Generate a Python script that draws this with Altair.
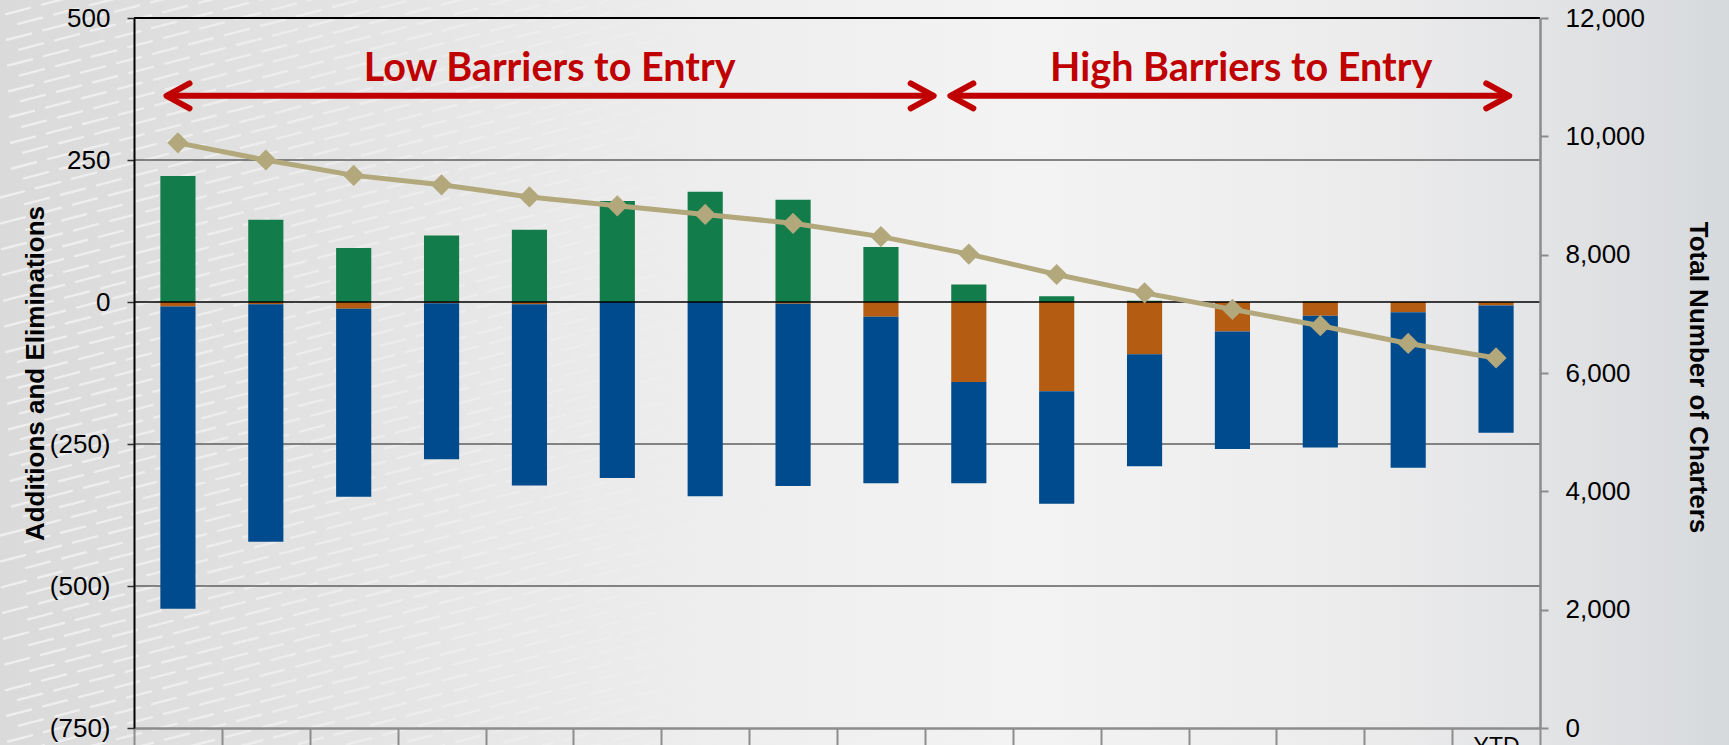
import altair as alt
import pandas as pd

# Charter activity by year (left axis: additions above zero, eliminations below)
years = ["2000", "2001", "2002", "2003", "2004", "2005", "2006", "2007",
         "2008", "2009", "2010", "2011", "2012", "2013", "2014", "YTD"]
new_charters = [222, 145, 95, 117, 127, 178, 194, 180, 97, 31, 10, 2, 0, 1, 0, 0]
failures = [-8, -4, -12, -2, -4, 0, 0, -3, -26, -141, -157, -92, -52, -24, -18, -6]
mergers = [-532, -418, -331, -275, -319, -310, -342, -321, -293, -178, -198,
           -197, -207, -232, -274, -224]
# Right axis: total number of charters at year end
total_charters = [9890, 9600, 9340, 9180, 8975, 8825, 8680, 8530, 8305, 8010,
                  7665, 7355, 7075, 6800, 6500, 6255]

series_names = ["New Charters", "Failures", "Mergers"]
series_colors = ["#137c4b", "#b35c12", "#004b8d"]

# Annotation spans (in category units) and their labels
span_labels = ["Low Barriers to Entry", "High Barriers to Entry"]
span_start = [0.37, 9.29]
span_end = [9.10, 15.65]
span_mid = [4.73, 12.6]
arrow_level = 363
label_level = 389

left_ticks = [-750, -500, -250, 0, 250, 500]
grid_values = [-500, -250, 250]
right_ticks = [0, 2000, 4000, 6000, 8000, 10000, 12000]

W, H = 1406, 710
PAD = {"left": 134, "top": 18, "right": 189, "bottom": 17}
RED = "#c00000"
TAN = "#b2a87c"
FONT = "Liberation Sans"

rows = []
for i, yr in enumerate(years):
    for k, (name, vals) in enumerate(zip(series_names, [new_charters, failures, mergers])):
        rows.append({"year": yr, "series": name, "value": vals[i], "rank": k})
bars_df = pd.DataFrame(rows)
line_df = pd.DataFrame({"year": years, "total": total_charters})
spans_df = pd.DataFrame({"label": span_labels, "start": span_start, "end": span_end,
                         "mid": span_mid, "level": arrow_level, "tlevel": label_level})

left_scale = alt.Scale(domain=[-750, 500], nice=False, zero=False)
right_scale = alt.Scale(domain=[0, 12000], nice=False)
band_scale = alt.Scale(domain=years, paddingInner=0, paddingOuter=0)
unit_scale = alt.Scale(domain=[0, 16], nice=False, zero=False)

# Slide-style backdrop across the whole canvas
backdrop = alt.Chart(pd.DataFrame({"k": [0]})).mark_rect(
    fill=alt.Gradient(
        gradient="linear", x1=0, x2=1, y1=0, y2=0,
        stops=[
            alt.GradientStop(color="#dadada", offset=0),
            alt.GradientStop(color="#e3e3e3", offset=0.2),
            alt.GradientStop(color="#eeeeee", offset=0.42),
            alt.GradientStop(color="#f3f3f3", offset=0.6),
            alt.GradientStop(color="#ebebec", offset=0.8),
            alt.GradientStop(color="#e2e3e5", offset=0.9),
            alt.GradientStop(color="#d6d9dc", offset=1),
        ],
    )
).encode(
    x=alt.value(-PAD["left"]), x2=alt.value(W + PAD["right"]),
    y=alt.value(-PAD["top"]), y2=alt.value(H + PAD["bottom"]),
)

# Faint slanted dash pattern on the left of the backdrop
dash_rows = []
for r in range(-18, 60):
    for c in range(0, 20):
        x0 = c * 36 + (r % 2) * 18 + (r * 7) % 13
        if x0 > 690:
            continue
        y0 = r * 13 + 0.26 * (760 - x0)
        if y0 < -10 or y0 > 760:
            continue
        dash_rows.append({
            "x": x0 - PAD["left"], "x2": x0 + 24 - PAD["left"],
            "y": y0 - PAD["top"], "y2": y0 - 6.2 - PAD["top"],
            "o": 0.55 * max(0.0, 1 - x0 / 700) ** 0.7,
        })
dashes = alt.Chart(pd.DataFrame(dash_rows)).mark_rule(
    color="white", strokeWidth=2.4, strokeCap="round"
).encode(
    x=alt.X("x:Q", scale=None, axis=None), x2="x2:Q",
    y=alt.Y("y:Q", scale=None, axis=None), y2="y2:Q",
    opacity=alt.Opacity("o:Q", scale=None),
)

grid = alt.Chart(pd.DataFrame({"v": grid_values})).mark_rule(
    color="#5f5f5f", strokeWidth=1.3
).encode(y=alt.Y("v:Q", scale=left_scale, axis=None))

frame_top = alt.Chart(pd.DataFrame({"v": [500]})).mark_rule(
    color="black", strokeWidth=2.2
).encode(y=alt.Y("v:Q", scale=left_scale, axis=None))

bars = alt.Chart(bars_df).mark_bar(width={"band": 0.4}).encode(
    x=alt.X("year:N", scale=band_scale, sort=years, axis=alt.Axis(
        title=None, domainColor="#8c8c8c", domainWidth=2.5,
        tickColor="#8c8c8c", tickWidth=2, tickSize=22, tickBand="extent",
        labelFont=FONT, labelFontSize=23, labelColor="black", labelAngle=0,
        labelBaseline="top", labelPadding=-15, labelOverlap=False,
        labelExpr="datum.value == 'YTD' ? 'YTD' : ''",
        zindex=1)),
    y=alt.Y("value:Q", scale=left_scale, stack="zero", axis=alt.Axis(
        values=left_ticks, grid=False,
        labelExpr="datum.value < 0 ? '(' + format(-datum.value, ',') + ')' : format(datum.value, ',') + '\u2008'",
        labelFont=FONT, labelFontSize=26, labelColor="black", labelPadding=17,
        domainColor="black", domainWidth=2, tickColor="#333333", tickSize=7, tickWidth=1.5,
        title="Additions and Eliminations", titleFont=FONT, titleFontSize=26,
        titleFontWeight="bold", titleColor="black", titleAngle=-90,
        titleX=-91, titleY=355, titleAlign="center", titleBaseline="alphabetic",
        zindex=1)),
    color=alt.Color("series:N", scale=alt.Scale(domain=series_names, range=series_colors),
                    legend=None),
    order=alt.Order("rank:Q"),
)

zero_line = alt.Chart(pd.DataFrame({"v": [0]})).mark_rule(
    color="black", strokeWidth=1.6
).encode(y=alt.Y("v:Q", scale=left_scale, axis=None))

total_line = alt.Chart(line_df).mark_line(color=TAN, strokeWidth=5).encode(
    x=alt.X("year:N", scale=band_scale, sort=years, axis=None),
    y=alt.Y("total:Q", scale=right_scale, axis=alt.Axis(
        orient="right", values=right_ticks, grid=False,
        labelExpr="format(datum.value, ',')",
        labelFont=FONT, labelFontSize=26, labelColor="black", labelPadding=17,
        domainColor="#8c8c8c", domainWidth=2.5, tickColor="#8c8c8c", tickSize=8,
        tickWidth=2,
        title="Total Number of Charters", titleFont=FONT, titleFontSize=26,
        titleFontWeight="bold", titleColor="black", titleAngle=90,
        titleX=149, titleY=359, titleAlign="center", titleBaseline="alphabetic",
        zindex=1)),
)

total_points = alt.Chart(line_df).mark_point(
    shape="diamond", filled=True, size=450, color=TAN, opacity=1
).encode(
    x=alt.X("year:N", scale=band_scale, sort=years, axis=None),
    y=alt.Y("total:Q", scale=right_scale, axis=None),
)

shafts = alt.Chart(spans_df).mark_rule(color=RED, strokeWidth=6).encode(
    x=alt.X("start:Q", scale=unit_scale, axis=None),
    x2="end:Q",
    y=alt.Y("level:Q", scale=left_scale, axis=None),
)

head_style = dict(filled=False, size=625, color=RED, strokeWidth=6,
                  strokeCap="round", strokeJoin="round", opacity=1)
heads_left = alt.Chart(spans_df).mark_point(
    shape="M1.84,-1L0,0L1.84,1", **head_style
).encode(
    x=alt.X("start:Q", scale=unit_scale, axis=None),
    y=alt.Y("level:Q", scale=left_scale, axis=None),
)
heads_right = alt.Chart(spans_df).mark_point(
    shape="M-1.84,-1L0,0L-1.84,1", **head_style
).encode(
    x=alt.X("end:Q", scale=unit_scale, axis=None),
    y=alt.Y("level:Q", scale=left_scale, axis=None),
)

span_text = alt.Chart(spans_df).mark_text(
    font="Lato", fontWeight="bold", fontSize=39.5, color=RED,
    align="center", baseline="alphabetic"
).encode(
    x=alt.X("mid:Q", scale=unit_scale, axis=None),
    y=alt.Y("tlevel:Q", scale=left_scale, axis=None),
    text="label:N",
)

chart = alt.layer(
    backdrop, dashes, grid, frame_top, bars, zero_line, total_line, total_points,
    shafts, heads_left, heads_right, span_text,
).resolve_scale(
    x="independent", y="independent", color="independent"
).properties(
    width=W, height=H,
    autosize=alt.AutoSizeParams(type="none"),
    padding=PAD,
    background="#e6e6e6",
).configure_view(stroke=None)

chart.save("out.html", embed_options={"renderer": "svg", "actions": False})
